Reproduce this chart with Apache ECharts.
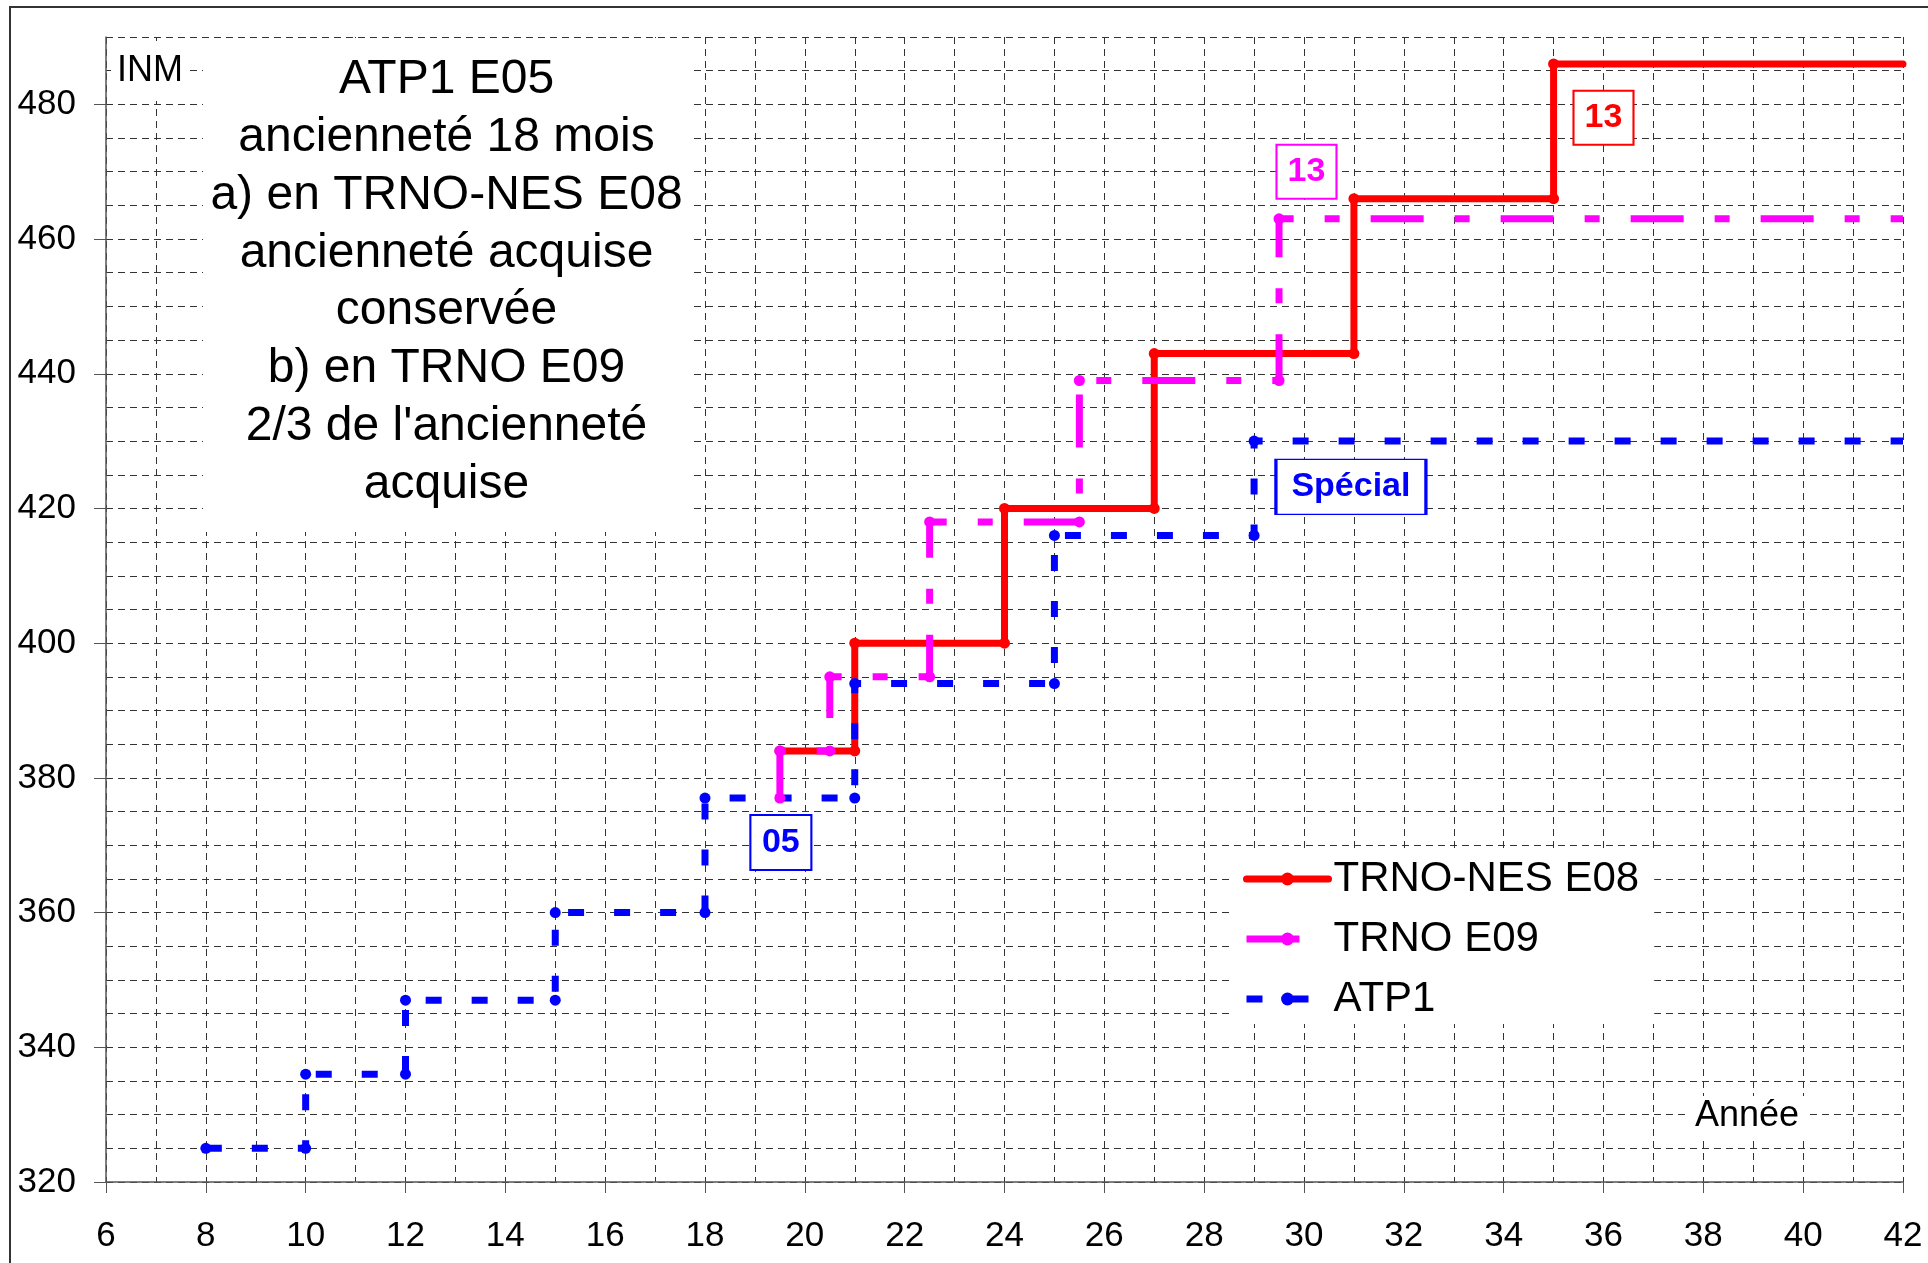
<!DOCTYPE html>
<html>
<head>
<meta charset="utf-8">
<title>ATP1 E05 - INM</title>
<script src="https://cdn.jsdelivr.net/npm/echarts@6/dist/echarts.min.js"></script>
<style>
  html, body { margin: 0; padding: 0; background: #fff; }
  #chart { width: 1928px; height: 1263px; }
</style>
</head>
<body>
<div id="chart"></div>
<script>
// step curves, one vertex per corner (année, INM)
const trnoNesYears = [19.5, 21, 21, 24, 24, 27, 27, 31, 31, 35, 35, 42];
const trnoNesInm   = [384, 384, 400, 400, 420, 420, 443, 443, 466, 466, 486, 486];

const trnoYears = [19.5, 19.5, 20.5, 20.5, 22.5, 22.5, 25.5, 25.5, 29.5, 29.5, 42];
const trnoInm   = [377, 384, 384, 395, 395, 418, 418, 439, 439, 463, 463];

const atpYears = [8, 10, 10, 12, 12, 15, 15, 18, 18, 21, 21, 25, 25, 29, 29, 42];
const atpInm   = [325, 325, 336, 336, 347, 347, 360, 360, 377, 377, 394, 394, 416, 416, 430, 430];

const seriesNames = ['TRNO-NES E08', 'TRNO E09', 'ATP1'];
const yTicks = [320, 340, 360, 380, 400, 420, 440, 460, 480];

const noteLines = [
    'ATP1 E05',
    'ancienneté 18 mois',
    'a) en TRNO-NES E08',
    'ancienneté acquise',
    'conservée',
    'b) en TRNO E09',
    '2/3 de l\'ancienneté',
    'acquise'
];

// boxed labels placed in data space
const redTag = { text: '13', coord: [36.0, 478] };
const pinkTag = { text: '13', coord: [30.05, 470] };
const specialTag = { text: 'Spécial', coord: [30.94, 423.2] };
const e05Tag = { text: '05', coord: [19.52, 370.4] };

const FONT = '"Liberation Sans", Arial, sans-serif';
const gridLine = { color: '#333', width: 1, type: [7, 5] };

const RED = '#ff0000', PINK = '#ff00ff', BLUE = '#0000ff';
const redLine = { color: RED, width: 7, join: 'round', cap: 'round' };
const pinkLine = { color: PINK, width: 7, type: [53, 31, 15, 31] };
const blueLine = { color: BLUE, width: 7, type: [16, 30] };

const toPoints = (xs, ys) => xs.map((x, i) => {
    const p = { value: [x, ys[i]] };
    if (i === xs.length - 1) p.symbol = 'none'; // no marker at the right edge
    return p;
});

const tag = (t, color, w, h) => ({
    coord: t.coord,
    symbol: 'rect',
    symbolSize: [w, h],
    itemStyle: { color: '#fff', borderColor: color, borderWidth: 2 },
    label: {
        show: true, position: 'inside', formatter: t.text,
        color: color, fontFamily: FONT, fontWeight: 'bold', fontSize: 34
    }
});

const chart = echarts.init(document.getElementById('chart'), null, { renderer: 'canvas' });

const option = {
    animation: false,
    backgroundColor: '#fff',
    textStyle: { fontFamily: FONT },
    grid: { left: 106, right: 25, top: 37, bottom: 81 },
    xAxis: {
        type: 'value', min: 6, max: 42, interval: 2,
        axisLine: { onZero: false, lineStyle: { color: '#555', width: 1.5 } },
        axisTick: { length: 11, lineStyle: { color: '#555' } },
        axisLabel: { fontSize: 35, color: '#000', margin: 37, fontFamily: FONT },
        splitLine: { show: true, lineStyle: gridLine },
        minorTick: { show: false, splitNumber: 2 },
        minorSplitLine: { show: true, lineStyle: gridLine }
    },
    yAxis: [
        {
            type: 'value', min: 320, max: 490, interval: 5,
            axisLine: { show: true, onZero: false, lineStyle: { color: '#555', width: 1.5 } },
            axisTick: { show: false },
            axisLabel: {
                fontSize: 35, color: '#000', margin: 30, fontFamily: FONT,
                formatter: v => (v % 20 === 0 && v <= 480) ? String(v) : ''
            },
            splitLine: { show: true, lineStyle: gridLine }
        },
        {
            // only carries the tick marks at each labelled value
            type: 'value', min: 320, max: 490, interval: 20, position: 'left',
            axisLine: { show: false },
            axisTick: { show: true, length: 12, customValues: yTicks, lineStyle: { color: '#555' } },
            axisLabel: { show: false },
            splitLine: { show: false }
        }
    ],
    legend: {
        orient: 'vertical',
        left: 1233, top: 850,
        padding: [8, 15, 4, 10],
        backgroundColor: '#fff',
        itemWidth: 82, itemHeight: 16, itemGap: 18,
        selectedMode: false,
        textStyle: { fontSize: 42, color: '#000', fontFamily: FONT, lineHeight: 42 },
        data: [
            { name: seriesNames[0], lineStyle: redLine },
            { name: seriesNames[1], lineStyle: pinkLine },
            { name: seriesNames[2], lineStyle: blueLine }
        ]
    },
    series: [
        {
            name: seriesNames[0], type: 'line',
            data: toPoints(trnoNesYears, trnoNesInm),
            symbol: 'circle', symbolSize: 11,
            color: RED,
            lineStyle: redLine,
            markPoint: { silent: true, data: [tag(redTag, RED, 60, 54)] }
        },
        {
            name: seriesNames[1], type: 'line',
            data: toPoints(trnoYears, trnoInm),
            symbol: 'circle', symbolSize: 11,
            color: PINK,
            lineStyle: pinkLine,
            markPoint: { silent: true, data: [tag(pinkTag, PINK, 60, 54)] }
        },
        {
            name: seriesNames[2], type: 'line',
            data: toPoints(atpYears, atpInm),
            symbol: 'circle', symbolSize: 11,
            color: BLUE,
            lineStyle: blueLine,
            markPoint: {
                silent: true,
                data: [tag(specialTag, BLUE, 150, 55), tag(e05Tag, BLUE, 61, 55)]
            }
        }
    ],
    graphic: [
        {
            // outer chart-area frame
            type: 'rect', silent: true, z: 10,
            shape: { x: 10, y: 7, width: 2400, height: 2400 },
            style: { fill: 'none', stroke: '#333', lineWidth: 2 }
        },
        {
            type: 'rect', silent: true, z: 1,
            shape: { x: 203, y: 38, width: 487, height: 494 },
            style: { fill: '#fff' }
        },
        {
            type: 'text', silent: true, z: 1,
            x: 446.5, y: 51,
            style: {
                text: noteLines.join('\n'),
                font: '48px ' + FONT,
                fill: '#000',
                align: 'center', verticalAlign: 'top',
                lineHeight: 57.8
            }
        },
        {
            type: 'text', silent: true, z: 1,
            x: 150, y: 71,
            style: {
                text: 'INM', font: '36px ' + FONT, fill: '#000',
                align: 'center', verticalAlign: 'middle',
                backgroundColor: '#fff', padding: [12, 6, 12, 6]
            }
        },
        {
            type: 'text', silent: true, z: 1,
            x: 1747, y: 1116,
            style: {
                text: 'Année', font: '36px ' + FONT, fill: '#000',
                align: 'center', verticalAlign: 'middle',
                backgroundColor: '#fff', padding: [2, 6, 2, 6]
            }
        }
    ]
};

chart.setOption(option);
window.addEventListener('resize', () => chart.resize());
</script>
</body>
</html>
